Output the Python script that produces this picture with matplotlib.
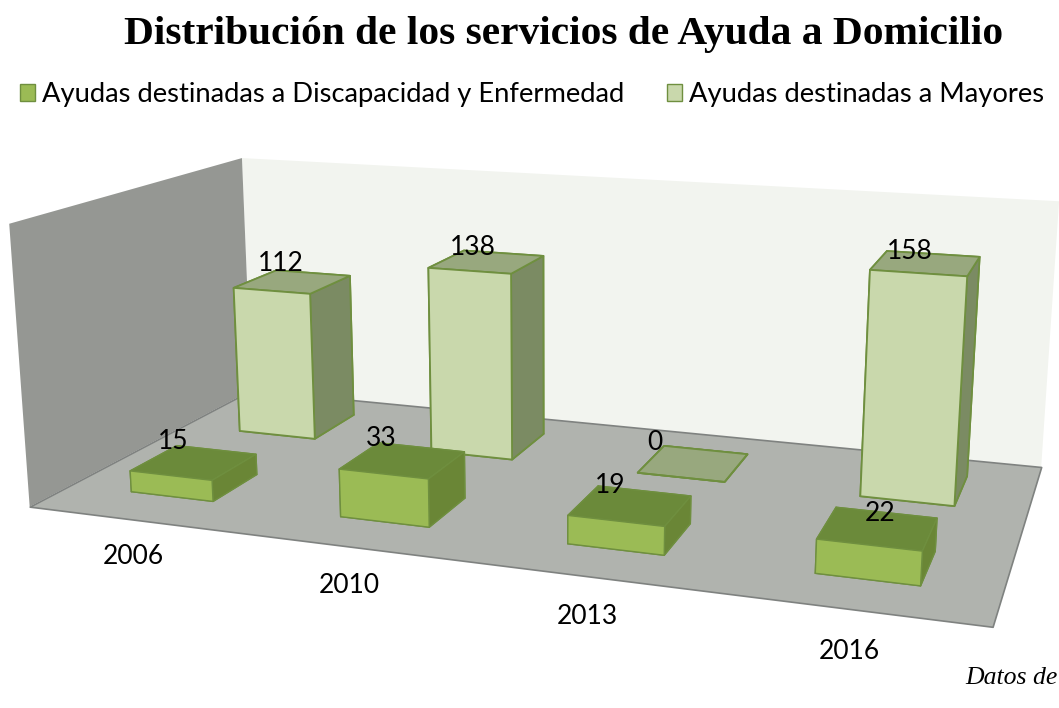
import matplotlib
matplotlib.use("Agg")
import matplotlib.pyplot as plt
from matplotlib.patches import Patch
from mpl_toolkits.mplot3d.art3d import Poly3DCollection

years = ["2006", "2010", "2013", "2016"]
discapacidad = [15, 33, 19, 22]
mayores = [112, 138, 0, 158]
series_names = ["Ayudas destinadas a Discapacidad y Enfermedad", "Ayudas destinadas a Mayores"]

ZMAX = 193
FACE_D = ["#6B8A3A", "#6B8A3A", "#9BBB55", "#6B8A3A", "#6A8636", "#6A8636"]
FACE_M = ["#98A87E", "#98A87E", "#C9D8AC", "#98A87E", "#7B8B63", "#7B8B63"]
EDGE_D = "#6F8F3F"
EDGE_M = "#6F8F3F"
FONT = "Lato"

fig = plt.figure(figsize=(10.59, 7.08), dpi=100, facecolor="white")
ax = fig.add_axes([-0.1716, -0.2536, 1.3591, 1.4739], projection="3d", computed_zorder=False)
ax.set_proj_type("persp", focal_length=0.33)
ax.view_init(elev=14.153, azim=-70.842)
ax.set_axis_off()
ax.set_xticks([]); ax.set_yticks([]); ax.set_zticks([])
ax.set_box_aspect((3.2, 1.579, 0.972))
n = len(years)
ax.set_xlim(0, n); ax.set_ylim(0, 2); ax.set_zlim(0, ZMAX)

floor = [(0, 0, 0), (n, 0, 0), (n, 2, 0), (0, 2, 0)]
back = [(0, 2, 0), (n, 2, 0), (n, 2, ZMAX), (0, 2, ZMAX)]
left = [(0, 0, 0), (0, 2, 0), (0, 2, ZMAX), (0, 0, ZMAX)]
for poly, col, ec, z in [(back, "#F2F4EF", "none", 1), (left, "#959793", "none", 2), (floor, "#B0B3AE", "#7F8280", 3)]:
    coll = Poly3DCollection([poly], facecolors=col, edgecolors=ec, linewidths=1.2, zorder=z)
    ax.add_collection3d(coll)
    coll.set_clip_on(False)

w = 0.4
xoff = 0.3
d_back, y_back = 0.44, 1.31
d_front, y_front = 0.4, 0.32
year_x = [0.74, 0.67, 0.61, 0.56]
label_dx_back = [-0.08, -0.08, -0.19, -0.07]
label_dz_back = [3, 0, 2, -2]
label_dx_front = [-0.13, -0.12, -0.10, 0.0]
label_dz_front = [2, 2, 1, -1]
zo = 10
for i in range(n):
    ax.bar3d(i + xoff, y_back, 0, w, d_back, mayores[i], color=FACE_M, edgecolor=EDGE_M, linewidth=1.3, shade=False, zorder=zo, alpha=0.999)
    ax.text(i + 0.5 + label_dx_back[i], y_back + 0.25, mayores[i] + label_dz_back[i], str(mayores[i]), ha="center", va="bottom", fontsize=19, family=FONT, zorder=50)
    zo += 1
for i in range(n):
    ax.bar3d(i + xoff, y_front, 0, w, d_front, discapacidad[i], color=FACE_D, edgecolor=EDGE_D, linewidth=1, shade=False, zorder=zo + 10, alpha=0.999)
    ax.text(i + 0.5 + label_dx_front[i], y_front + 0.25, discapacidad[i] + label_dz_front[i], str(discapacidad[i]), ha="center", va="bottom", fontsize=19, family=FONT, zorder=50)
    ax.text(i + year_x[i], -0.39, 0, years[i], ha="center", va="center", fontsize=19, family=FONT, zorder=50)
    zo += 1

fig.text(0.5325, 0.951, "Distribución de los servicios de Ayuda a Domicilio", ha="center", va="center",
         fontsize=29.8, fontweight="bold", family="Liberation Serif")
fig.text(0.999, 0.042, "Datos de", ha="right", va="center", fontsize=18.5, style="italic", family="Liberation Serif")
fig.legend(handles=[Patch(facecolor="#9BBB55", edgecolor="#6F8F3F", label=series_names[0]),
                    Patch(facecolor="#C9D8AC", edgecolor="#6F8F3F", label=series_names[1])],
           loc="center left", bbox_to_anchor=(0.019, 0.866), ncol=2, frameon=False,
           prop={"family": FONT, "size": 19.7}, handlelength=0.55, handleheight=0.6,
           handletextpad=0.25, columnspacing=1.55, borderpad=0, borderaxespad=0)
fig.savefig("out.png", dpi=100)
